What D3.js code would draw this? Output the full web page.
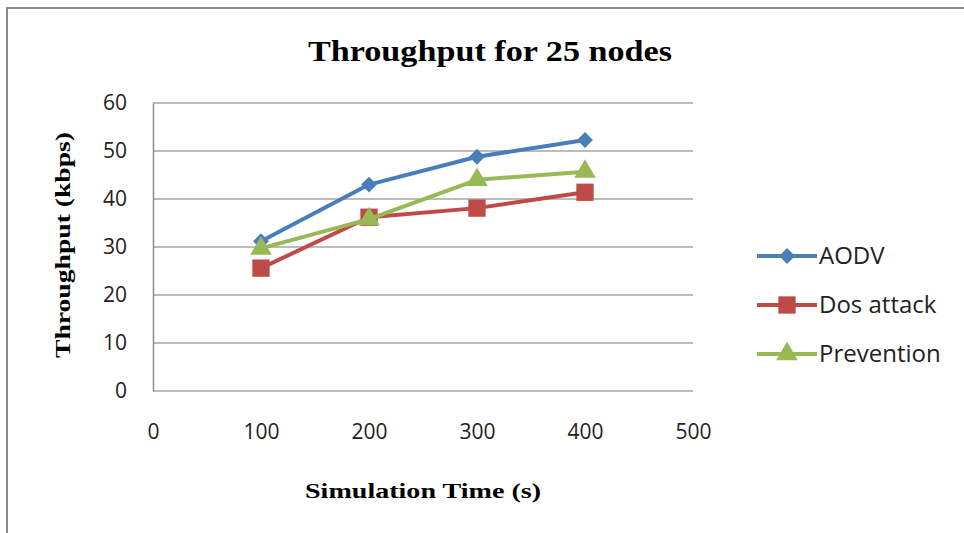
<!DOCTYPE html>
<html>
<head>
<meta charset="utf-8">
<script src="https://cdn.jsdelivr.net/npm/d3@7"></script>
<style>
  body { margin: 0; background: #fff; }
  svg { display: block; }
</style>
</head>
<body>
<svg id="chart" width="964" height="533"></svg>
<script>
// data
var times = [100, 200, 300, 400];
var aodv = [31.2, 43.0, 48.8, 52.3];
var dosAttack = [25.6, 36.2, 38.1, 41.4];
var prevention = [29.7, 35.8, 44.0, 45.7];
var xTicks = [0, 100, 200, 300, 400, 500];
var yTicks = [0, 10, 20, 30, 40, 50, 60];

var series = [
  { name: 'AODV', values: aodv, color: '#4a7ebb', shape: d3.symbolDiamond2, size: 160 },
  { name: 'Dos attack', values: dosAttack, color: '#be4b48', shape: d3.symbolSquare, size: 300 },
  { name: 'Prevention', values: prevention, color: '#98b954', shape: d3.symbolTriangle, size: 200 }
];

var svg = d3.select('#chart');
var tickFont = '"Open Sans", "Liberation Sans", sans-serif';
var titleFont = '"Liberation Serif", "Times New Roman", serif';

var x = d3.scaleLinear().domain([0, 500]).range([153, 693]);
var y = d3.scaleLinear().domain([0, 60]).range([391, 103]);

// outer frame (only top and left visible)
svg.append('path')
  .attr('d', 'M7,533 L7,8 L964,8')
  .attr('fill', 'none')
  .attr('stroke', '#8c8c8c')
  .attr('stroke-width', 2);

// gridlines
svg.append('g')
  .selectAll('line')
  .data(yTicks)
  .enter()
  .append('line')
  .attr('x1', x(0))
  .attr('x2', x(500))
  .attr('y1', d => y(d))
  .attr('y2', d => y(d))
  .attr('stroke', '#a6a6a6')
  .attr('stroke-width', 1.5);

// y axis
var yAxis = svg.append('g')
  .attr('transform', 'translate(' + x(0) + ',0)')
  .call(d3.axisLeft(y).tickValues(yTicks).tickSize(0).tickPadding(26));
yAxis.select('.domain').attr('stroke', '#8c8c8c').attr('stroke-width', 1.5);
yAxis.selectAll('text')
  .style('font-family', tickFont)
  .style('font-size', '21px')
  .attr('fill', '#222');

// x axis (labels sit below the plot)
var xAxis = svg.append('g')
  .attr('transform', 'translate(0,' + y(0) + ')')
  .call(d3.axisBottom(x).tickValues(xTicks).tickSize(0).tickPadding(33));
xAxis.select('.domain').remove();
xAxis.selectAll('text')
  .style('font-family', tickFont)
  .style('font-size', '21px')
  .attr('fill', '#222');

// lines and markers
var line = d3.line()
  .x((d, i) => x(times[i]))
  .y(d => y(d));

series.forEach(function(s) {
  svg.append('path')
    .datum(s.values)
    .attr('d', line)
    .attr('fill', 'none')
    .attr('stroke', s.color)
    .attr('stroke-width', 4)
    .attr('stroke-linejoin', 'round');

  svg.append('g')
    .selectAll('path')
    .data(s.values)
    .enter()
    .append('path')
    .attr('d', d3.symbol().type(s.shape).size(s.size))
    .attr('transform', (d, i) => 'translate(' + x(times[i]) + ',' + y(d) + ')')
    .attr('fill', s.color);
});

// legend
var legend = svg.append('g')
  .selectAll('g')
  .data(series)
  .enter()
  .append('g')
  .attr('transform', (d, i) => 'translate(757,' + (256 + i * 49) + ')');

legend.append('line')
  .attr('x1', 0).attr('x2', 60)
  .attr('stroke', d => d.color)
  .attr('stroke-width', 4);

legend.append('path')
  .attr('d', d => d3.symbol().type(d.shape).size(d.size)())
  .attr('transform', 'translate(30,0)')
  .attr('fill', d => d.color);

legend.append('text')
  .attr('x', 62)
  .attr('y', 8)
  .text(d => d.name)
  .style('font-family', tickFont)
  .style('font-size', '24px')
  .attr('fill', '#222');

// titles
svg.append('text')
  .attr('x', 490)
  .attr('y', 61)
  .attr('text-anchor', 'middle')
  .attr('textLength', 364)
  .attr('lengthAdjust', 'spacingAndGlyphs')
  .style('font-family', titleFont)
  .style('font-weight', 700)
  .style('font-size', '30px')
  .text('Throughput for 25 nodes');

svg.append('text')
  .attr('x', 423)
  .attr('y', 498)
  .attr('text-anchor', 'middle')
  .attr('textLength', 236)
  .attr('lengthAdjust', 'spacingAndGlyphs')
  .style('font-family', titleFont)
  .style('font-weight', 700)
  .style('font-size', '22px')
  .text('Simulation Time (s)');

svg.append('text')
  .attr('transform', 'translate(70,245) rotate(-90)')
  .attr('text-anchor', 'middle')
  .attr('textLength', 226)
  .attr('lengthAdjust', 'spacingAndGlyphs')
  .style('font-family', titleFont)
  .style('font-weight', 700)
  .style('font-size', '22px')
  .text('Throughput (kbps)');
</script>
</body>
</html>
